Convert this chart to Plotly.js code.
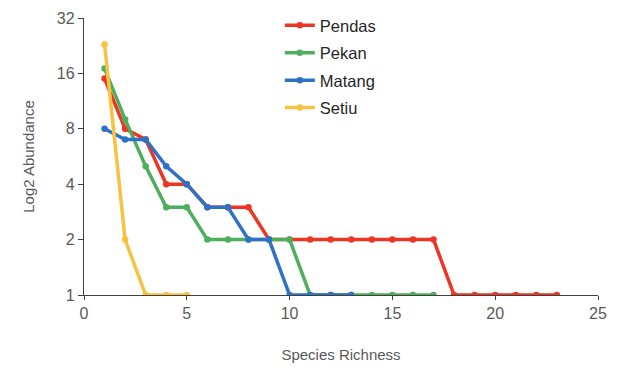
<!DOCTYPE html>
<html><head><meta charset="utf-8">
<script src="https://cdn.plot.ly/plotly-3.0.1.min.js"></script>
<style>html,body{margin:0;padding:0;background:#fff}</style>
</head><body>
<div id="chart" style="width:619px;height:370px"></div>
<script>
const seriesNames = ["Pendas", "Pekan", "Matang", "Setiu"];
const pendasX = [1,2,3,4,5,6,7,8,9,10,11,12,13,14,15,16,17,18,19,20,21,22,23];
const pendasY = [15,8,7,4,4,3,3,3,2,2,2,2,2,2,2,2,2,1,1,1,1,1,1];
const pekanX = [1,2,3,4,5,6,7,8,9,10,11,12,13,14,15,16,17];
const pekanY = [17,9,5,3,3,2,2,2,2,2,1,1,1,1,1,1,1];
const matangX = [1,2,3,4,5,6,7,8,9,10,11,12,13];
const matangY = [8,7,7,5,4,3,3,2,2,1,1,1,1];
const setiuX = [1,2,3,4,5];
const setiuY = [23,2,1,1,1];
const yTicks = [1,2,4,8,16,32];
const colors = ["#EE3524", "#4DAF5C", "#2F72C4", "#F7C23E"];

const xs = [pendasX, pekanX, matangX, setiuX];
const ys = [pendasY, pekanY, matangY, setiuY];
const traces = seriesNames.map((n, i) => ({
  x: xs[i], y: ys[i], name: n, type: "scatter", mode: "lines+markers",
  legendgroup: n,
  line: {color: colors[i], width: 3.5},
  marker: {color: colors[i], size: 6.5}
}));

const layout = {
  width: 619, height: 370,
  margin: {l: 84, r: 21, t: 18, b: 75, autoexpand: false},
  paper_bgcolor: "#fff", plot_bgcolor: "#fff",
  font: {family: "Liberation Sans, Arial, sans-serif", size: 14, color: "#595959"},
  showlegend: true,
  legend: {x: 0.381, y: 1.036, xanchor: "left", yanchor: "top", bgcolor: "rgba(0,0,0,0)",
           font: {size: 16.5, color: "#262626"}, tracegroupgap: 3, itemwidth: 30},
  xaxis: {
    range: [0, 25], dtick: 5, tick0: 0, showgrid: false, zeroline: false,
    showline: true, linecolor: "#404040", linewidth: 1.3,
    ticks: "outside", ticklen: 4, tickcolor: "#404040",
    tickfont: {size: 16, color: "#595959"},
    title: {text: "Species Richness", font: {size: 15, color: "#595959"}, standoff: 28}
  },
  yaxis: {
    type: "log", range: [0, Math.log10(32)], tickvals: yTicks, ticktext: yTicks.map(String),
    showgrid: false, zeroline: false,
    showline: true, linecolor: "#404040", linewidth: 1.3,
    ticks: "outside", ticklen: 5, tickcolor: "#404040",
    tickfont: {size: 16, color: "#595959"},
    title: {text: "Log2 Abundance", font: {size: 15, color: "#595959"}, standoff: 18}
  }
};
Plotly.newPlot("chart", traces, layout, {displayModeBar: false});
</script>
</body></html>
